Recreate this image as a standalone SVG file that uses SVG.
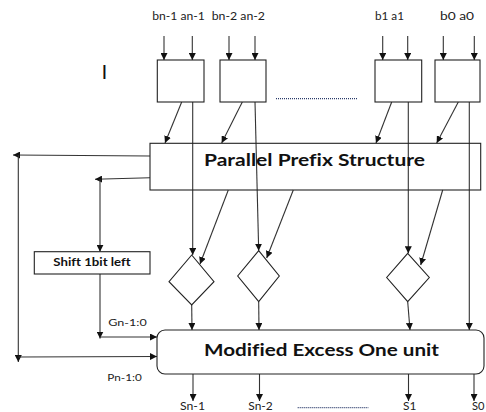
<svg xmlns="http://www.w3.org/2000/svg" width="486" height="412" viewBox="0 0 486 412">
<style>
text{font-variant-ligatures:none}
.box{fill:#fff;stroke:#222;stroke-width:1.1}
.ln{fill:none;stroke:#333;stroke-width:1.1}
.arr{marker-end:url(#ah)}
.lbl{font-family:Lato,"Liberation Sans",Arial,sans-serif;font-size:11px;fill:#222}
.big{font-family:Lato,"Liberation Sans",Arial,sans-serif;font-weight:bold;font-size:17.5px;fill:#111}
.small{font-family:Lato,"Liberation Sans",Arial,sans-serif;font-weight:bold;font-size:10.5px;fill:#111}
.dot{fill:none;stroke:#2a3a6a;stroke-width:1.2;stroke-dasharray:1,1}
</style>
<defs>
<marker id="ah" viewBox="0 0 10 10" refX="10" refY="5" markerWidth="7" markerHeight="7" markerUnits="userSpaceOnUse" orient="auto">
<path d="M0,0 L10,5 L0,10 z" fill="#111"/>
</marker>
</defs>
<rect width="486" height="412" fill="#fff"/>

<g id="connectors">
<line class="ln arr" x1="164" y1="36" x2="164" y2="60"/>
<line class="ln arr" x1="192.3" y1="36" x2="192.3" y2="60"/>
<line class="ln arr" x1="229" y1="36" x2="229" y2="60"/>
<line class="ln arr" x1="255" y1="36" x2="255" y2="60"/>
<line class="ln arr" x1="382.7" y1="36" x2="382.7" y2="60"/>
<line class="ln arr" x1="407.7" y1="36" x2="407.7" y2="60"/>
<line class="ln arr" x1="443.3" y1="36" x2="443.3" y2="60"/>
<line class="ln arr" x1="474.3" y1="36" x2="474.3" y2="60"/>
<line class="ln arr" x1="181.7" y1="102" x2="165" y2="143"/>
<line class="ln arr" x1="242.3" y1="102" x2="221.7" y2="143"/>
<line class="ln arr" x1="391.7" y1="102" x2="376" y2="143"/>
<line class="ln arr" x1="458.3" y1="102" x2="436.7" y2="143"/>
<line class="ln arr" x1="192.7" y1="102" x2="192.7" y2="255"/>
<line class="ln arr" x1="255" y1="102" x2="258.7" y2="250.7"/>
<line class="ln arr" x1="408.3" y1="102" x2="408.3" y2="253.3"/>
<line class="ln arr" x1="469.3" y1="102" x2="469.3" y2="330"/>
<line class="ln arr" x1="228.3" y1="190" x2="200" y2="264"/>
<line class="ln arr" x1="293.3" y1="190" x2="266.7" y2="258"/>
<line class="ln arr" x1="442.7" y1="190" x2="420.7" y2="265"/>
<line class="ln arr" x1="191.7" y1="305" x2="192" y2="330"/>
<line class="ln arr" x1="258.7" y1="301.7" x2="259" y2="330"/>
<line class="ln arr" x1="407.7" y1="301.7" x2="410" y2="330"/>
<line class="ln arr" x1="150" y1="156" x2="13" y2="155"/>
<line class="ln arr" x1="18.3" y1="155" x2="18.3" y2="362"/>
<line class="ln arr" x1="18.3" y1="357" x2="157" y2="356.5"/>
<line class="ln arr" x1="150" y1="177.7" x2="95" y2="179.3"/>
<line class="ln arr" x1="100" y1="179.3" x2="100" y2="251.7"/>
<line class="ln arr" x1="100" y1="274" x2="100" y2="338.5"/>
<line class="ln arr" x1="100" y1="337" x2="157" y2="337"/>
<line class="ln arr" x1="193" y1="374" x2="193" y2="401"/>
<line class="ln arr" x1="259.5" y1="374" x2="259.5" y2="401"/>
<line class="ln arr" x1="408.5" y1="374" x2="408.5" y2="401"/>
<line class="ln arr" x1="474" y1="374" x2="474" y2="401"/>
</g>

<g id="labels">
<text class="lbl" x="152.3" y="19.5" textLength="52.5" lengthAdjust="spacingAndGlyphs">bn-1 an-1</text>
<text class="lbl" x="211.7" y="19.5" textLength="53.3" lengthAdjust="spacingAndGlyphs">bn-2 an-2</text>
<text class="lbl" x="375" y="19.5" textLength="29" lengthAdjust="spacingAndGlyphs">b1 a1</text>
<text class="lbl" x="440" y="19.5" textLength="34" lengthAdjust="spacingAndGlyphs">b0 a0</text>
<text x="101.5" y="79" style="font-family:'Liberation Sans',Arial,sans-serif;font-size:21px;fill:#111">I</text>
<line class="dot" x1="276" y1="98.7" x2="358" y2="98.7"/>
<text class="lbl" x="108.3" y="325.7" textLength="38.4" lengthAdjust="spacingAndGlyphs" style="font-size:10px">Gn-1:0</text>
<text class="lbl" x="107.3" y="380.7" textLength="34.4" lengthAdjust="spacingAndGlyphs" style="font-size:10px">Pn-1:0</text>
<text class="lbl" x="180" y="410" textLength="25" lengthAdjust="spacingAndGlyphs">Sn-1</text>
<text class="lbl" x="248.3" y="410" textLength="24.4" lengthAdjust="spacingAndGlyphs">Sn-2</text>
<text class="lbl" x="403" y="410" textLength="13.3" lengthAdjust="spacingAndGlyphs">S1</text>
<text class="lbl" x="472" y="410" textLength="12.5" lengthAdjust="spacingAndGlyphs">S0</text>
<line class="dot" x1="297.7" y1="407.7" x2="368.3" y2="407.7"/>
</g>

<g id="cell1"><rect class="box" x="157.3" y="60" width="46.7" height="42"/></g>
<g id="cell2"><rect class="box" x="220" y="60" width="46" height="42"/></g>
<g id="cell3"><rect class="box" x="375" y="60" width="46.7" height="42"/></g>
<g id="cell4"><rect class="box" x="435" y="60" width="45" height="42"/></g>

<g id="prefix">
<rect class="box" x="150" y="143.3" width="330.7" height="46.7" style="fill:none"/>
<text class="big" x="204" y="165.7" textLength="221" lengthAdjust="spacingAndGlyphs">Parallel Prefix Structure</text>
</g>

<g id="shift">
<rect class="box" x="34.3" y="251.7" width="115.7" height="22.3"/>
<text class="small" x="53.3" y="266" textLength="77.4" lengthAdjust="spacingAndGlyphs">Shift 1bit left</text>
</g>

<g id="xor1"><polygon class="box" points="191.7,255 214,281.7 191.7,305 169,281.7" style="fill:none"/></g>
<g id="xor2"><polygon class="box" points="258.7,250.7 279.3,276 258.7,301.7 237.7,276" style="fill:none"/></g>
<g id="xor3"><polygon class="box" points="407.7,253.3 429.3,277.5 407.7,301.7 386.7,277.5" style="fill:none"/></g>

<g id="excess">
<rect class="box" x="157" y="330" width="327" height="44" rx="8" ry="8"/>
<text class="big" x="204" y="356" textLength="235" lengthAdjust="spacingAndGlyphs">Modified Excess One unit</text>
</g>
</svg>
